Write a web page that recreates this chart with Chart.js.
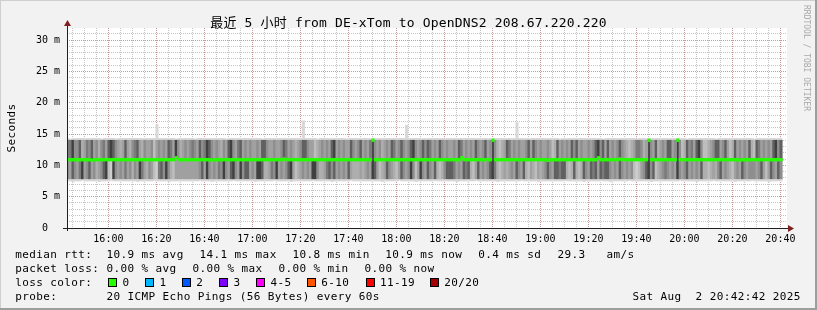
<!DOCTYPE html>
<html lang="en">
<head>
<meta charset="UTF-8" />
<title>最近 5 小时 from DE-xTom to OpenDNS2 208.67.220.220</title>
<script src="https://cdn.jsdelivr.net/npm/chart.js"></script>
<style>
  html, body { margin: 0; padding: 0; background: #f2f2f2; }
  canvas { display: block; }
</style>
</head>
<body>
<canvas id="smokeChart" width="817" height="310"></canvas>
<script>
// one smoke column per minute, first one at 15:43
const firstMinute = 15 * 60 + 43;
const xTickLabels = ['16:00', '16:20', '16:40', '17:00', '17:20', '17:40', '18:00', '18:20',
                     '18:40', '19:00', '19:20', '19:40', '20:00', '20:20', '20:40'];
const yTickValues = [0, 5, 10, 15, 20, 25, 30];
const yTickLabels = ['0  ', '5 m', '10 m', '15 m', '20 m', '25 m', '30 m'];

// median rtt per minute (ms)
const medianRtt = [
  10.9, 10.9, 10.9, 10.9, 10.9, 10.9, 10.9, 10.9, 10.9, 10.9, 10.8, 10.9, 10.9, 10.9, 10.9, 10.9, 10.9, 10.9, 10.9, 10.9, 10.9, 10.9, 10.9, 10.9, 10.9,
  10.9, 10.9, 10.9, 10.9, 10.9, 10.9, 10.9, 10.9, 10.9, 10.9, 10.9, 10.9, 10.9, 10.9, 10.9, 10.9, 10.9, 10.9, 10.9, 10.9, 11.2, 10.9, 10.9, 10.9, 10.9,
  10.9, 10.9, 10.9, 10.9, 10.9, 10.9, 10.9, 10.9, 10.9, 10.9, 10.8, 10.9, 10.9, 10.9, 10.9, 10.9, 10.9, 10.9, 10.9, 10.9, 10.9, 10.9, 10.9, 10.9, 10.9,
  10.9, 10.9, 10.9, 10.9, 10.9, 10.9, 10.9, 10.9, 10.9, 10.9, 10.9, 10.9, 10.9, 10.9, 10.9, 11.0, 10.9, 10.9, 10.9, 10.9, 10.9, 10.9, 10.9, 10.9, 10.9,
  10.9, 10.9, 10.9, 10.9, 10.9, 10.9, 10.9, 10.9, 10.9, 10.9, 10.9, 10.9, 10.9, 10.9, 10.9, 10.9, 10.9, 10.9, 10.9, 10.9, 10.9, 10.9, 10.9, 10.9, 10.9,
  10.9, 10.9, 14.0, 10.9, 10.9, 10.9, 10.9, 10.9, 10.9, 10.9, 10.9, 10.9, 10.9, 10.9, 10.9, 10.9, 10.9, 10.9, 10.9, 10.9, 10.9, 10.9, 10.9, 10.9, 10.9,
  10.9, 10.9, 10.9, 10.9, 10.9, 10.9, 10.9, 10.9, 10.9, 10.9, 10.9, 10.9, 10.9, 10.9, 11.2, 10.9, 10.9, 10.9, 10.9, 10.9, 10.9, 10.9, 10.9, 10.9, 10.9,
  10.9, 10.9, 14.0, 10.9, 10.9, 10.9, 10.9, 10.9, 10.9, 10.9, 10.9, 10.9, 10.9, 10.9, 10.9, 10.9, 10.9, 10.9, 10.9, 10.9, 10.9, 10.9, 10.9, 10.9, 10.9,
  10.8, 10.9, 10.9, 10.9, 10.9, 10.9, 10.9, 10.9, 10.9, 10.9, 10.9, 10.9, 10.9, 10.9, 10.9, 10.9, 10.9, 10.9, 10.9, 10.9, 10.9, 11.2, 10.9, 10.9, 10.9,
  10.9, 10.9, 10.9, 10.9, 10.9, 11.0, 10.9, 10.9, 10.9, 10.9, 10.9, 10.9, 10.9, 10.9, 10.9, 10.9, 10.9, 14.0, 10.9, 10.9, 10.9, 10.9, 10.9, 10.9, 10.9,
  10.9, 10.9, 10.9, 10.9, 14.0, 10.9, 10.9, 10.9, 10.9, 10.9, 10.9, 10.9, 10.9, 10.9, 10.9, 10.9, 10.9, 10.9, 10.9, 10.9, 10.9, 10.9, 10.9, 10.9, 10.9,
  10.9, 10.9, 10.9, 10.9, 10.9, 10.8, 10.9, 10.9, 10.9, 10.9, 10.9, 10.9, 10.9, 10.9, 10.9, 10.9, 10.9, 10.9, 10.9, 10.9, 10.9, 10.9, 10.9
];

// slowest ping per minute (ms)
const pingMax = [
  14.3, 14.2, 14.3, 14.3, 14.3, 14.3, 14.3, 14.2, 14.3, 14.3, 14.3, 14.3, 14.3, 14.3, 14.2, 14.3, 14.3, 14.3, 14.3, 14.3, 14.2, 14.3, 14.3, 14.3, 14.3,
  14.3, 14.3, 14.3, 14.3, 14.3, 14.3, 14.3, 14.3, 14.3, 14.3, 14.3, 14.3, 16.5, 14.3, 14.3, 14.3, 14.3, 14.3, 14.3, 14.3, 14.2, 14.3, 14.3, 14.3, 14.3,
  14.3, 14.3, 14.3, 14.2, 14.3, 14.3, 14.3, 14.3, 14.3, 14.3, 14.3, 14.3, 14.3, 14.3, 14.3, 14.3, 14.2, 14.3, 14.3, 14.3, 14.3, 14.3, 14.3, 14.3, 14.3,
  14.3, 14.3, 14.3, 14.3, 14.3, 14.3, 14.2, 14.3, 14.3, 14.3, 14.3, 14.3, 14.3, 14.3, 14.3, 14.3, 14.3, 14.3, 14.3, 14.3, 14.3, 14.3, 14.3, 17.1, 14.3,
  14.3, 14.3, 14.3, 14.3, 14.2, 14.3, 14.3, 14.3, 14.3, 14.3, 14.3, 14.3, 14.3, 14.3, 14.3, 14.3, 14.2, 14.3, 14.3, 14.3, 14.3, 14.3, 14.3, 14.3, 14.3,
  14.3, 14.3, 14.3, 14.3, 14.3, 14.3, 14.3, 14.3, 14.3, 14.3, 14.3, 14.3, 14.3, 14.3, 14.3, 14.3, 16.4, 14.3, 14.3, 14.3, 14.3, 14.3, 14.2, 14.3, 14.3,
  14.3, 14.3, 14.3, 14.3, 14.3, 14.3, 14.3, 14.2, 14.3, 14.3, 14.3, 14.3, 14.3, 14.3, 14.3, 14.3, 14.3, 14.3, 14.3, 14.3, 14.3, 14.3, 14.3, 14.3, 14.3,
  14.3, 14.3, 14.3, 14.3, 14.3, 14.3, 14.3, 14.3, 14.3, 14.3, 14.3, 14.3, 16.8, 14.3, 14.3, 14.3, 14.3, 14.2, 14.3, 14.3, 14.3, 14.3, 14.3, 14.3, 14.3,
  14.3, 14.3, 14.3, 14.3, 14.3, 14.2, 14.3, 14.3, 14.3, 14.3, 14.3, 14.3, 14.3, 14.3, 14.3, 14.3, 14.3, 14.3, 14.3, 14.3, 14.3, 14.3, 14.3, 14.2, 14.3,
  14.3, 14.3, 14.3, 14.3, 14.3, 14.3, 14.3, 14.3, 14.3, 14.3, 14.3, 14.3, 14.2, 14.3, 14.3, 14.3, 14.3, 14.3, 14.3, 14.3, 14.3, 14.3, 14.3, 14.3, 14.3,
  14.3, 14.3, 14.3, 14.3, 14.3, 14.3, 14.3, 14.3, 14.2, 14.3, 14.3, 14.3, 14.3, 14.3, 14.3, 14.3, 14.3, 14.3, 14.3, 14.3, 14.2, 14.3, 14.3, 14.3, 14.3,
  14.3, 14.3, 14.3, 14.3, 14.3, 14.3, 14.3, 14.3, 14.3, 14.3, 14.3, 14.2, 14.3, 14.3, 14.3, 14.3, 14.3, 14.3, 14.3, 14.3, 14.3, 14.3, 14.3
];

// fastest ping per minute (ms)
const pingMin = [
  7.5, 7.5, 7.4, 7.5, 7.5, 7.5, 7.6, 7.5, 7.5, 7.5, 7.5, 7.5, 7.5, 7.4, 7.5, 7.5, 7.5, 7.5, 7.6, 7.5, 7.5, 7.5, 7.5, 7.5, 7.5,
  7.5, 7.5, 7.5, 7.5, 7.4, 7.5, 7.5, 7.5, 7.5, 7.5, 7.5, 7.6, 7.5, 7.5, 7.5, 7.5, 7.5, 7.4, 7.5, 7.5, 7.5, 7.5, 7.5, 7.5, 7.5,
  7.5, 7.5, 7.5, 7.5, 7.5, 7.6, 7.5, 7.5, 7.5, 7.5, 7.4, 7.5, 7.5, 7.5, 7.5, 7.5, 7.5, 7.5, 7.5, 7.6, 7.5, 7.5, 7.5, 7.5, 7.5,
  7.5, 7.5, 7.5, 7.4, 7.5, 7.5, 7.5, 7.5, 7.5, 7.5, 7.5, 7.6, 7.5, 7.5, 7.5, 7.5, 7.5, 7.5, 7.4, 7.5, 7.5, 7.5, 7.5, 7.5, 7.5,
  7.5, 7.5, 7.6, 7.5, 7.5, 7.5, 7.5, 7.5, 7.5, 7.5, 7.4, 7.5, 7.5, 7.5, 7.5, 7.5, 7.5, 7.5, 7.6, 7.5, 7.5, 7.5, 7.5, 7.5, 7.5,
  7.5, 7.5, 7.5, 7.5, 7.5, 7.5, 7.4, 7.5, 7.5, 7.5, 7.5, 7.5, 7.5, 7.6, 7.5, 7.5, 7.5, 7.5, 7.5, 7.5, 7.4, 7.5, 7.5, 7.5, 7.5,
  7.5, 7.5, 7.5, 7.6, 7.5, 7.5, 7.5, 7.5, 7.5, 7.5, 7.5, 7.5, 7.4, 7.5, 7.5, 7.5, 7.5, 7.5, 7.5, 7.5, 7.6, 7.5, 7.5, 7.5, 7.5,
  7.5, 7.5, 7.5, 7.5, 7.4, 7.5, 7.5, 7.5, 7.5, 7.5, 7.5, 7.5, 7.5, 7.5, 7.6, 7.5, 7.5, 7.5, 7.5, 7.5, 7.5, 7.4, 7.5, 7.5, 7.5,
  7.5, 7.5, 7.5, 7.5, 7.5, 7.5, 7.5, 7.6, 7.5, 7.5, 7.5, 7.5, 7.5, 7.5, 7.5, 7.4, 7.5, 7.5, 7.5, 7.5, 7.5, 7.5, 7.6, 7.5, 7.5,
  7.5, 7.4, 7.5, 7.5, 7.5, 7.5, 7.5, 7.5, 7.5, 7.6, 7.5, 7.5, 7.5, 7.5, 7.5, 7.5, 7.5, 7.5, 7.4, 7.5, 7.5, 7.5, 7.5, 7.5, 7.5,
  7.5, 7.5, 7.5, 7.5, 7.5, 7.6, 7.5, 7.5, 7.5, 7.5, 7.5, 7.5, 7.4, 7.5, 7.5, 7.5, 7.5, 7.5, 7.5, 7.6, 7.5, 7.5, 7.5, 7.5, 7.5,
  7.5, 7.5, 7.5, 7.4, 7.5, 7.5, 7.5, 7.5, 7.5, 7.5, 7.6, 7.5, 7.5, 7.5, 7.5, 7.5, 7.5, 7.4, 7.5, 7.5, 7.5, 7.5, 7.5
];

// how tightly the pings bunch above / below the median (1 = loose, 9 = tight)
const upperDensity = [
  7, 7, 9, 6, 6, 8, 4, 5, 7, 6, 8, 5, 6, 4, 6, 7, 5, 8, 9, 8, 6, 5, 4, 5, 8,
  5, 4, 6, 7, 8, 5, 4, 6, 5, 5, 6, 3, 5, 6, 5, 6, 5, 8, 7, 5, 9, 6, 4, 5, 6,
  5, 6, 7, 6, 5, 8, 6, 7, 9, 8, 6, 5, 6, 5, 4, 6, 5, 8, 9, 6, 5, 7, 8, 5, 6,
  5, 6, 5, 5, 6, 5, 8, 8, 6, 5, 5, 6, 5, 5, 6, 8, 7, 5, 6, 5, 4, 5, 6, 8, 8,
  6, 5, 5, 3, 4, 5, 6, 5, 6, 5, 8, 9, 5, 6, 5, 6, 5, 5, 8, 6, 5, 6, 8, 5, 6,
  5, 7, 9, 6, 5, 6, 4, 5, 6, 5, 8, 7, 5, 6, 8, 6, 5, 6, 8, 9, 6, 5, 6, 8, 6,
  8, 7, 5, 6, 5, 8, 6, 5, 6, 5, 5, 6, 5, 8, 7, 5, 6, 5, 6, 5, 8, 6, 5, 6, 8,
  5, 6, 9, 6, 4, 3, 4, 5, 8, 7, 5, 6, 5, 6, 5, 5, 6, 8, 5, 8, 6, 5, 6, 5, 5,
  6, 5, 3, 4, 8, 5, 6, 5, 6, 5, 8, 6, 8, 5, 6, 5, 5, 6, 5, 6, 8, 9, 6, 8, 5,
  8, 5, 6, 5, 6, 8, 6, 5, 4, 3, 4, 5, 7, 7, 6, 4, 5, 9, 6, 5, 8, 4, 5, 6, 5,
  8, 8, 5, 6, 9, 6, 3, 4, 8, 6, 7, 5, 8, 9, 6, 3, 3, 4, 5, 6, 8, 8, 5, 6, 8,
  5, 3, 4, 8, 5, 6, 5, 6, 5, 8, 4, 3, 8, 7, 5, 6, 5, 6, 5, 8, 9, 6, 8
];
const lowerDensity = [
  6, 5, 8, 6, 5, 7, 9, 5, 6, 8, 5, 6, 4, 5, 6, 8, 9, 3, 2, 9, 6, 5, 6, 5, 7,
  5, 6, 4, 6, 5, 9, 7, 5, 4, 6, 5, 3, 2, 7, 8, 6, 9, 6, 4, 3, 5, 5, 5, 5, 5,
  5, 5, 5, 5, 5, 6, 8, 5, 9, 6, 5, 6, 5, 7, 6, 9, 6, 5, 8, 9, 6, 5, 9, 6, 8,
  8, 5, 6, 5, 9, 9, 8, 4, 4, 5, 7, 6, 9, 5, 6, 5, 6, 8, 9, 5, 3, 4, 5, 6, 5,
  6, 5, 9, 9, 6, 4, 4, 5, 7, 8, 6, 8, 5, 6, 5, 6, 5, 8, 5, 4, 4, 4, 5, 4, 5,
  6, 5, 9, 8, 5, 3, 4, 5, 8, 6, 5, 4, 3, 5, 8, 6, 5, 6, 9, 6, 3, 5, 9, 6, 5,
  8, 6, 5, 8, 4, 3, 4, 6, 8, 8, 8, 7, 5, 6, 5, 8, 7, 8, 4, 3, 5, 8, 5, 6, 5,
  6, 8, 9, 7, 4, 3, 4, 5, 4, 5, 6, 5, 8, 6, 5, 8, 4, 3, 5, 4, 3, 5, 4, 5, 6,
  8, 6, 5, 8, 8, 7, 8, 8, 4, 3, 4, 8, 4, 3, 4, 8, 6, 5, 8, 7, 8, 5, 8, 7, 8,
  8, 6, 5, 6, 5, 8, 6, 5, 6, 5, 6, 3, 2, 3, 5, 6, 8, 9, 6, 8, 3, 4, 5, 6, 7,
  6, 5, 6, 5, 9, 6, 5, 6, 8, 5, 6, 5, 6, 5, 8, 4, 4, 3, 4, 5, 4, 6, 8, 5, 6,
  5, 4, 3, 5, 6, 5, 8, 6, 5, 6, 6, 6, 5, 6, 8, 5, 3, 5, 8, 6, 5, 8, 6
];
// where the bulk of the pings sits (ms)
const bulkLow = 7.85;
const bulkHigh = 14.0;

const rttStats = ['10.9 ms avg', '14.1 ms max', '10.8 ms min', '10.9 ms now', '0.4 ms sd', '29.3', 'am/s'];
const lossStats = ['0.00 % avg', '0.00 % max', '0.00 % min', '0.00 % now'];
const lossLabels = ['0', '1', '2', '3', '4-5', '6-10', '11-19', '20/20'];
const lossColors = ['#26ff00', '#00b8ff', '#0059ff', '#7e00ff', '#ff00ff', '#ff5500', '#ff0000', '#a10000'];

const MONO = '"DejaVu Sans Mono", "Noto Sans CJK SC", monospace';
const toMinutes = s => { const p = s.split(':'); return +p[0] * 60 + +p[1]; };
const xTickValues = xTickLabels.map(toMinutes);
const xMin = firstMinute - 0.25;
const xMax = xMin + 300;
const yMax = 31.915;
const xs = medianRtt.map((_, i) => firstMinute + 0.25 + i);

const greys = [255, 224, 206, 190, 174, 160, 142, 122, 96, 64];
const shade = d => 'rgb(' + greys[d] + ',' + greys[d] + ',' + greys[d] + ')';

const minorX = [];
for (let m = 945; m < xMax; m += 5) minorX.push(m);
const minorY = [];
for (let v = 1; v < yMax; v++) minorY.push(v);

const rrdLook = {
    id: 'rrdLook',
    beforeDraw(chart) {
        const ctx = chart.ctx, a = chart.chartArea;
        ctx.save();
        ctx.fillStyle = '#f2f2f2';
        ctx.fillRect(0, 0, 817, 310);
        ctx.fillStyle = '#cfcfcf';
        ctx.fillRect(0, 0, 817, 1);
        ctx.fillRect(0, 0, 1, 310);
        ctx.fillStyle = '#9e9e9e';
        ctx.fillRect(0, 308, 817, 2);
        ctx.fillRect(815, 0, 2, 310);
        ctx.fillStyle = '#ffffff';
        ctx.fillRect(a.left, a.top, a.right - a.left, a.bottom - a.top);
        ctx.restore();
    },
    afterDraw(chart) {
        const ctx = chart.ctx, a = chart.chartArea;
        ctx.save();
        // axes
        ctx.strokeStyle = '#1f1f1f';
        ctx.lineWidth = 1;
        ctx.beginPath();
        ctx.moveTo(a.left - 4, a.bottom + 0.5);
        ctx.lineTo(a.right + 2, a.bottom + 0.5);
        ctx.moveTo(a.left + 0.5, a.bottom + 3);
        ctx.lineTo(a.left + 0.5, a.top - 3);
        ctx.stroke();
        ctx.fillStyle = '#801f1f';
        ctx.beginPath();
        ctx.moveTo(a.right + 7, a.bottom + 0.5);
        ctx.lineTo(a.right + 1, a.bottom - 3);
        ctx.lineTo(a.right + 1, a.bottom + 4);
        ctx.closePath();
        ctx.fill();
        ctx.beginPath();
        ctx.moveTo(a.left + 0.5, a.top - 8);
        ctx.lineTo(a.left - 3, a.top - 2);
        ctx.lineTo(a.left + 4, a.top - 2);
        ctx.closePath();
        ctx.fill();

        ctx.fillStyle = '#000';
        ctx.textBaseline = 'alphabetic';
        // title
        ctx.font = '13px ' + MONO;
        ctx.letterSpacing = '0.17px';
        ctx.textAlign = 'center';
        ctx.fillText('最近 5 小时 from DE-xTom to OpenDNS2 208.67.220.220', 408.5, 26.5);
        // y title
        ctx.font = '11px ' + MONO;
        ctx.letterSpacing = '0.38px';
        ctx.save();
        ctx.translate(14.5, 128);
        ctx.rotate(-Math.PI / 2);
        ctx.fillText('Seconds', 0, 0);
        ctx.restore();
        // legend
        ctx.textAlign = 'left';
        const row = (y, items) => items.forEach(([x, t]) => ctx.fillText(t, x - 0.7, y));
        row(258, [[16, 'median rtt:'], [107.3, rttStats[0]], [200.3, rttStats[1]], [293.3, rttStats[2]],
                  [386, rttStats[3]], [479, rttStats[4]], [558.3, rttStats[5]], [607.3, rttStats[6]]]);
        row(272, [[16, 'packet loss:'], [107.3, lossStats[0]], [193.3, lossStats[1]], [279.3, lossStats[2]], [365.3, lossStats[3]]]);
        row(285.8, [[16, 'loss color:']]);
        const boxX = [108.5, 145.5, 182.5, 219.5, 256.5, 307.5, 366.5, 430.5];
        const labX = [123.3, 160.3, 197, 234.3, 271.3, 322, 380.7, 445];
        lossLabels.forEach((t, i) => {
            ctx.fillStyle = lossColors[i];
            ctx.fillRect(boxX[i], 278.5, 8, 8);
            ctx.strokeStyle = '#000';
            ctx.strokeRect(boxX[i], 278.5, 8, 8);
            ctx.fillStyle = '#000';
            ctx.fillText(t, labX[i] - 0.7, 285.8);
        });
        row(299.6, [[16, 'probe:'], [107.3, '20 ICMP Echo Pings (56 Bytes) every 60s'], [633.3, 'Sat Aug  2 20:42:42 2025']]);
        // watermark
        ctx.font = '8px ' + MONO;
        ctx.letterSpacing = '0px';
        ctx.fillStyle = '#a9a9a9';
        ctx.translate(806.5, 5);
        ctx.rotate(Math.PI / 2);
        ctx.textBaseline = 'middle';
        ctx.fillText('RRDTOOL / TOBI OETIKER', 0, 0);
        ctx.restore();
    }
};

const barBase = { type: 'bar', grouped: false, barPercentage: 1, categoryPercentage: 1, borderWidth: 0 };
const flatGrid = color => ({ color: color, drawTicks: false, offset: false });

new Chart(document.getElementById('smokeChart'), {
    type: 'bar',
    data: {
        datasets: [
            Object.assign({}, barBase, {
                label: 'median rtt',
                data: xs.map((x, i) => ({ x: x, y: [medianRtt[i] - 0.21, medianRtt[i] + 0.21] })),
                backgroundColor: '#26ff00',
                order: 0
            }),
            Object.assign({}, barBase, {
                label: 'upper smoke',
                data: xs.map((x, i) => ({ x: x, y: [medianRtt[i], Math.max(medianRtt[i], bulkHigh)] })),
                backgroundColor: upperDensity.map(shade),
                order: 1
            }),
            Object.assign({}, barBase, {
                label: 'lower smoke',
                data: xs.map((x, i) => ({ x: x, y: [bulkLow, medianRtt[i]] })),
                backgroundColor: lowerDensity.map(shade),
                order: 2
            }),
            Object.assign({}, barBase, {
                label: 'outer pings',
                data: xs.map((x, i) => ({ x: x, y: [pingMin[i], pingMax[i]] })),
                backgroundColor: '#d8d8d8',
                order: 3
            })
        ]
    },
    options: {
        responsive: false,
        animation: false,
        events: [],
        layout: { padding: { left: 0, right: 30, top: 28, bottom: 0 } },
        plugins: { legend: { display: false }, tooltip: { enabled: false } },
        scales: {
            xMinor: {
                type: 'linear', position: 'bottom', min: xMin, max: xMax, z: -1, offset: false,
                afterBuildTicks: s => { s.ticks = minorX.map(v => ({ value: v })); },
                ticks: { display: false },
                grid: flatGrid('rgba(140,140,140,0.5)'),
                border: { display: false, dash: [1, 1] },
                afterFit: s => { s.height = 0; }
            },
            yMinor: {
                type: 'linear', position: 'left', min: 0, max: yMax, z: -1, offset: false,
                afterBuildTicks: s => { s.ticks = minorY.map(v => ({ value: v })); },
                ticks: { display: false },
                grid: flatGrid('rgba(140,140,140,0.5)'),
                border: { display: false, dash: [1, 1] },
                afterFit: s => { s.width = 0; }
            },
            x: {
                type: 'linear', position: 'bottom', min: xMin, max: xMax, offset: false,
                afterBuildTicks: s => { s.ticks = xTickValues.map(v => ({ value: v })); },
                ticks: {
                    callback: (v, i) => xTickLabels[i],
                    font: { family: MONO, size: 10 }, color: '#000',
                    maxRotation: 0, autoSkip: false, padding: 5
                },
                grid: flatGrid('rgba(222,79,79,0.38)'),
                border: { display: false, dash: [1, 1] },
                afterFit: s => { s.height = 82; }
            },
            y: {
                type: 'linear', position: 'left', min: 0, max: yMax, offset: false,
                afterBuildTicks: s => { s.ticks = yTickValues.map(v => ({ value: v })); },
                ticks: {
                    callback: (v, i) => yTickLabels[i],
                    font: { family: MONO, size: 10 }, color: '#000', padding: 7
                },
                grid: flatGrid('rgba(222,79,79,0.38)'),
                border: { display: false, dash: [1, 1] },
                afterFit: s => { s.width = 67; }
            }
        }
    },
    plugins: [rrdLook]
});
</script>
</body>
</html>
